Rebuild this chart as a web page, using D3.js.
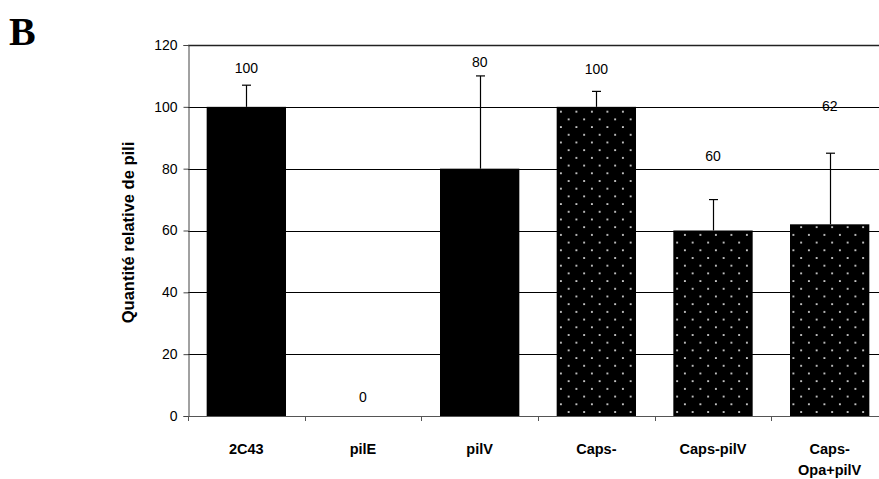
<!DOCTYPE html>
<html>
<head>
<meta charset="utf-8">
<script src="https://cdn.jsdelivr.net/npm/d3@7"></script>
<style>
body { margin: 0; background: #fff; }
svg { font-family: Arial, "Liberation Sans", sans-serif; }
</style>
</head>
<body>
<div id="chart"></div>
<script>
// donnees
const categories = ["2C43", "pilE", "pilV", "Caps-", "Caps-pilV", "Caps-\nOpa+pilV"];
const values = [100, 0, 80, 100, 60, 62];
const errTop = [107, 0, 110, 105, 70, 85];
const dotted = [false, false, false, true, true, true];
const labelAt = [112.5, 6, 114.5, 112.3, 84, 100.3]; // hauteur des etiquettes (en unites de l'axe)
const yTicks = [0, 20, 40, 60, 80, 100, 120];

const width = 879, height = 479;
const margin = { left: 188, top: 45, bottom: 416 };

const svg = d3.select("#chart").append("svg")
    .attr("width", width)
    .attr("height", height);

// motif pointille
const pat = svg.append("defs").append("pattern")
    .attr("id", "dots")
    .attr("patternUnits", "userSpaceOnUse")
    .attr("width", 15.5).attr("height", 15.4);
pat.append("rect").attr("width", 15.5).attr("height", 15.4).attr("fill", "#000");
pat.append("rect").attr("x", 2).attr("y", 3).attr("width", 1.8).attr("height", 1.8).attr("fill", "#d8d8d8");
pat.append("rect").attr("x", 9.75).attr("y", 10.7).attr("width", 1.8).attr("height", 1.8).attr("fill", "#d8d8d8");

const x = d3.scaleBand()
    .domain(categories)
    .range([margin.left, margin.left + 700])
    .paddingInner(0.32)
    .paddingOuter(0.16);

const y = d3.scaleLinear()
    .domain([0, 120])
    .range([margin.bottom, margin.top]);

// lignes de grille
svg.append("g").selectAll("line")
    .data(yTicks.filter(d => d > 0))
    .enter().append("line")
    .attr("x1", margin.left).attr("x2", width)
    .attr("y1", d => Math.round(y(d)) + 0.5)
    .attr("y2", d => Math.round(y(d)) + 0.5)
    .attr("stroke", d => d == 120 ? "#222" : "#000")
    .attr("stroke-width", d => d == 120 ? 1.5 : 1);

// barres
svg.append("g").selectAll("rect")
    .data(values)
    .enter().append("rect")
    .attr("x", (d, i) => x(categories[i]))
    .attr("width", x.bandwidth())
    .attr("y", d => y(d))
    .attr("height", d => y(0) - y(d))
    .attr("fill", (d, i) => dotted[i] ? "url(#dots)" : "#000");

// barres d'erreur
const eb = svg.append("g").attr("stroke", "#000").attr("stroke-width", 1.2);
values.forEach(function (v, i) {
    if (errTop[i] <= v) return;
    const cx = Math.round(x(categories[i]) + x.bandwidth() / 2) + 0.5;
    eb.append("line").attr("x1", cx).attr("x2", cx).attr("y1", y(v)).attr("y2", y(errTop[i]));
    eb.append("line").attr("x1", cx - 4.5).attr("x2", cx + 4.5).attr("y1", y(errTop[i])).attr("y2", y(errTop[i]));
});

// etiquettes de valeur
svg.append("g").selectAll("text")
    .data(values)
    .enter().append("text")
    .attr("x", (d, i) => x(categories[i]) + x.bandwidth() / 2)
    .attr("y", (d, i) => y(labelAt[i]))
    .attr("dy", "0.35em")
    .attr("text-anchor", "middle")
    .attr("font-size", 14)
    .text(d => d);

// axe Y
const yAxis = svg.append("g")
    .attr("transform", "translate(" + (margin.left + 0.5) + ",0)")
    .call(d3.axisLeft(y).tickValues(yTicks).tickSize(5).tickPadding(6));
yAxis.select(".domain").attr("stroke", "#444");
yAxis.selectAll(".tick line").attr("stroke", "#444");
yAxis.selectAll("text").attr("font-size", 14).attr("font-family", "Arial, 'Liberation Sans', sans-serif").attr("fill", "#000");

// axe X (traits entre les categories)
const xa = svg.append("g");
xa.append("line")
    .attr("x1", margin.left).attr("x2", width)
    .attr("y1", y(0) + 0.5).attr("y2", y(0) + 0.5)
    .attr("stroke", "#555");
d3.range(0, 7).forEach(function (k) {
    const tx = Math.round(margin.left + k * x.step()) + 0.5;
    xa.append("line").attr("x1", tx).attr("x2", tx)
        .attr("y1", y(0)).attr("y2", y(0) + 5)
        .attr("stroke", "#555");
});

// noms des categories
categories.forEach(function (c) {
    const t = svg.append("text")
        .attr("x", x(c) + x.bandwidth() / 2)
        .attr("y", 454)
        .attr("text-anchor", "middle")
        .attr("font-size", 14.5)
        .attr("font-weight", "bold");
    c.split("\n").forEach(function (line, j) {
        t.append("tspan").attr("x", x(c) + x.bandwidth() / 2).attr("dy", j == 0 ? 0 : 21).text(line);
    });
});

// titre de l'axe Y
svg.append("text")
    .attr("transform", "translate(134," + (y(60) + 2) + ") rotate(-90)")
    .attr("text-anchor", "middle")
    .attr("font-size", 16.5)
    .attr("font-weight", "bold")
    .text("Quantité relative de pili");

// lettre du panneau
svg.append("text")
    .attr("x", 9).attr("y", 45)
    .attr("font-family", "'Liberation Serif', 'Times New Roman', serif")
    .attr("font-size", 40)
    .attr("font-weight", "bold")
    .text("B");
</script>
</body>
</html>
